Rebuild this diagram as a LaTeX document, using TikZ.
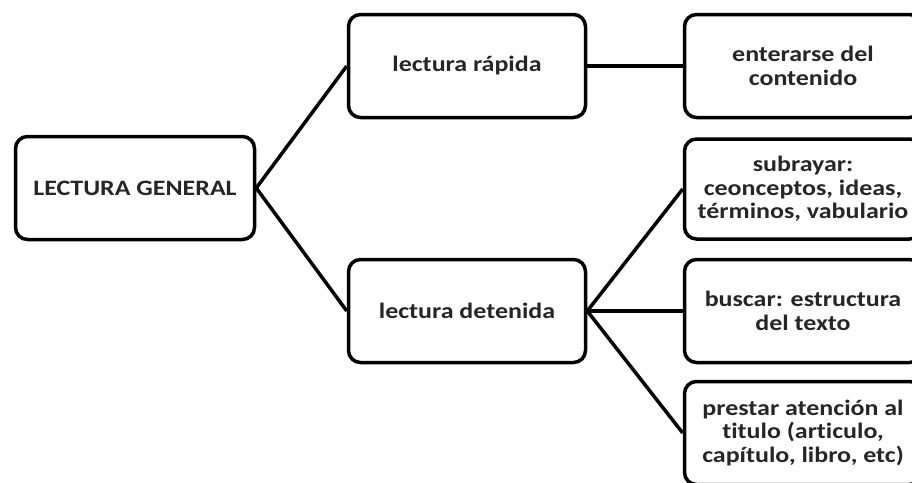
\documentclass[tikz,border=0pt]{standalone}
\usepackage{fontspec}
\setmainfont{Carlito}[FakeStretch=1.18, Ligatures=NoCommon]
\begin{document}
\begin{tikzpicture}[x=1pt, y=-1pt,
    box/.style={draw, line width=3.5pt, rounded corners=12pt, fill=white,
        minimum width=237pt, minimum height=103pt, align=center,
        font=\bfseries\fontsize{22}{23.5}\selectfont, text=black!85},
    link/.style={line width=3.5pt}]
    \clip (0,0) rectangle (912,482);
    \fill[white] (0,0) rectangle (912,482);
    \node[box, minimum width=239pt] (general) at (135,188) {LECTURA GENERAL};
    \node[box] (rapida) at (467,66) {lectura rápida};
    \node[box] (detenida) at (467,311) {lectura detenida};
    \node[box] (enterarse) at (803,66) {enterarse del\\contenido};
    \node[box, minimum height=100pt] (subrayar) at (803,189) {subrayar:\\ceonceptos, ideas,\\términos, vabulario};
    \node[box] (buscar) at (803,311) {buscar: estructura\\del texto};
    \node[box] (prestar) at (803,433) {prestar atención al\\titulo (articulo,\\capítulo, libro, etc)};
    \draw[link] (general.east) -- (rapida.west);
    \draw[link] (general.east) -- (detenida.west);
    \draw[link] (rapida.east) -- (enterarse.west);
    \draw[link] (detenida.east) -- (subrayar.west);
    \draw[link] (detenida.east) -- (buscar.west);
    \draw[link] (detenida.east) -- (prestar.west);
\end{tikzpicture}
\end{document}
